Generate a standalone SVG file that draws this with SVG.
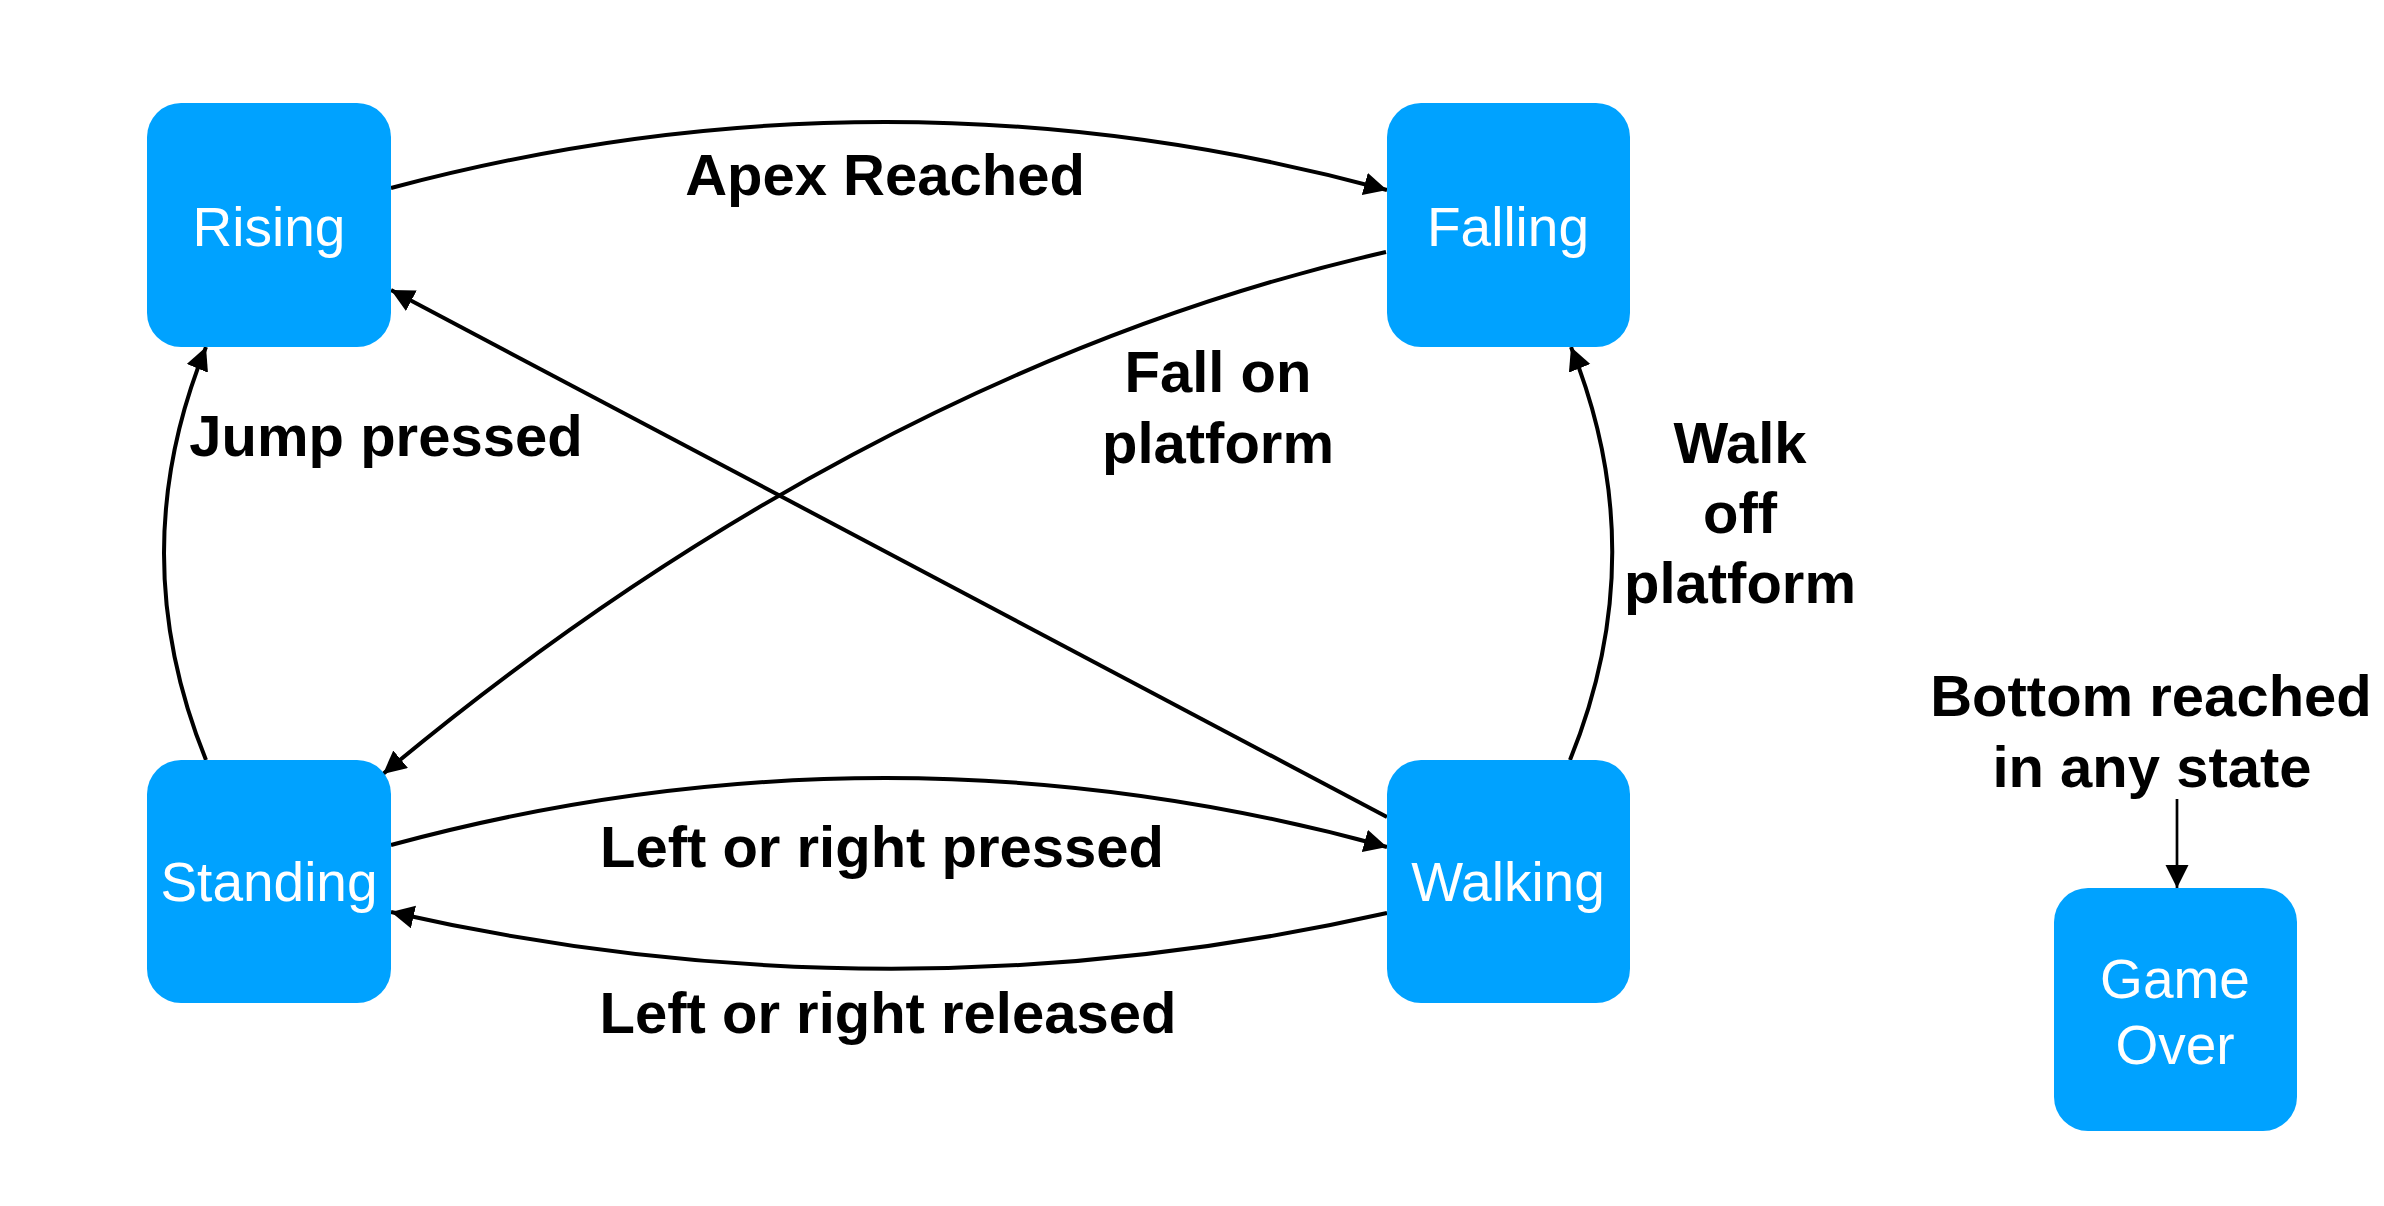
<svg xmlns="http://www.w3.org/2000/svg" width="2384" height="1206" viewBox="0 0 2384 1206">
<style>
.node rect{fill:#00A2FF}
.node text{fill:#fff;font-family:"Liberation Sans",Arial,Helvetica,sans-serif;font-size:55px;text-anchor:middle}
.lbl{fill:#000;font-family:"Liberation Sans",Arial,Helvetica,sans-serif;font-size:58px;font-weight:bold;text-anchor:middle}
.edge{fill:none;stroke:#000;stroke-width:4;marker-end:url(#arrow)}
.thin{stroke-width:2.7}
</style>
<defs>
<marker id="arrow" markerUnits="userSpaceOnUse" markerWidth="24" markerHeight="24" refX="23" refY="11.5" orient="auto" viewBox="0 0 24 24">
<path d="M0,0 L23,11.5 L0,23 Z" fill="#000"/>
</marker>
</defs>
<rect width="2384" height="1206" fill="#fff"/>
<g id="connectors">
<path id="e-apex" class="edge" d="M391,188 Q889,55 1387,190"/>
<path id="e-jump" class="edge" d="M206,760 Q122,553 206,347"/>
<path id="e-walkoff" class="edge" d="M1570,760 Q1654,553 1571,347"/>
<path id="e-fall" class="edge" d="M1386,252 C1014,337 671,533 383,774"/>
<path id="e-walk-rise" class="edge" d="M1387,817 L391,290"/>
<path id="e-pressed" class="edge" d="M391,845 Q889,710 1387,847"/>
<path id="e-released" class="edge" d="M1387,913 Q889,1025 391,912"/>
<path id="e-bottom" class="edge thin" d="M2177,799 L2177,888"/>
</g>
<g id="labels">
<text class="lbl" x="885" y="195">Apex Reached</text>
<text class="lbl" x="386" y="456">Jump pressed</text>
<text class="lbl" x="1218" y="392">Fall on</text>
<text class="lbl" x="1218" y="463">platform</text>
<text class="lbl" x="1740" y="463">Walk</text>
<text class="lbl" x="1740" y="533">off</text>
<text class="lbl" x="1740" y="603">platform</text>
<text class="lbl" x="2151" y="716">Bottom reached</text>
<text class="lbl" x="2152" y="787">in any state</text>
<text class="lbl" x="882" y="867">Left or right pressed</text>
<text class="lbl" x="888" y="1033">Left or right released</text>
</g>
<g id="node-rising" class="node"><rect x="147" y="103" width="244" height="244" rx="34"/><text x="269" y="246">Rising</text></g>
<g id="node-falling" class="node"><rect x="1387" y="103" width="243" height="244" rx="34"/><text x="1508" y="246">Falling</text></g>
<g id="node-standing" class="node"><rect x="147" y="760" width="244" height="243" rx="34"/><text x="269" y="901">Standing</text></g>
<g id="node-walking" class="node"><rect x="1387" y="760" width="243" height="243" rx="34"/><text x="1508" y="901">Walking</text></g>
<g id="node-gameover" class="node"><rect x="2054" y="888" width="243" height="243" rx="34"/><text x="2175" y="998">Game</text><text x="2175" y="1064">Over</text></g>
</svg>
